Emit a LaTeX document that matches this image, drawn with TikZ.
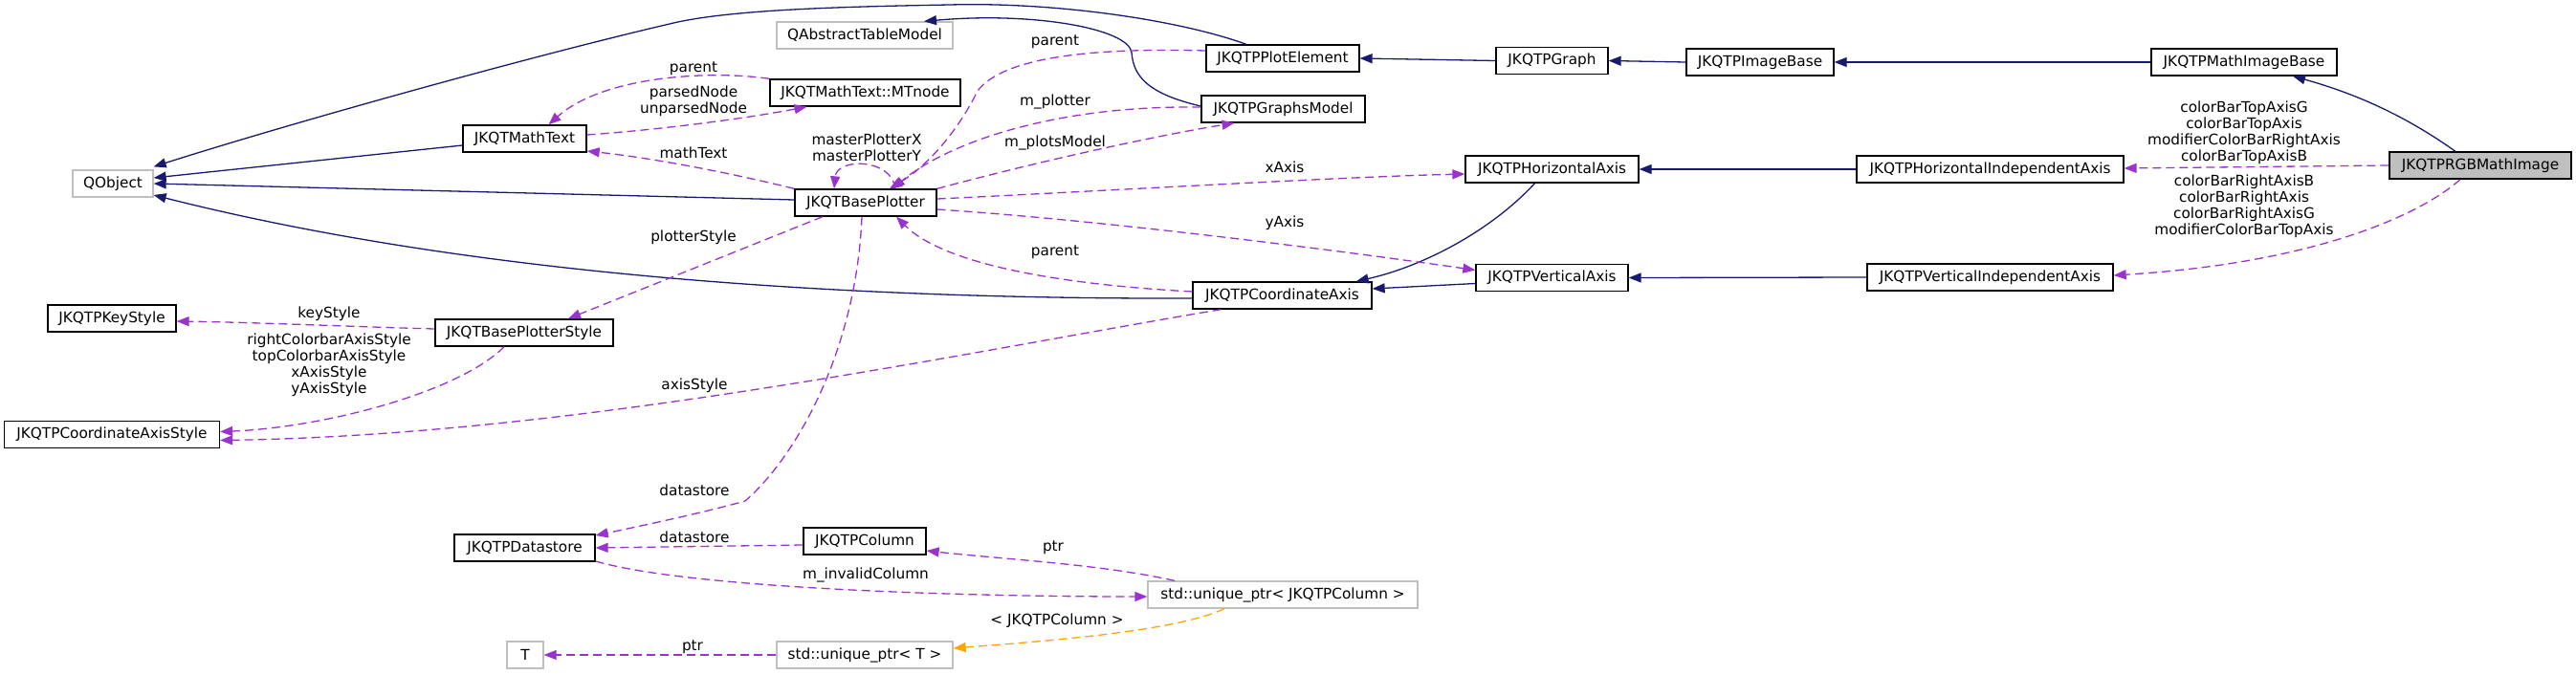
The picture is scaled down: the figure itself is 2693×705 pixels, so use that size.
\documentclass[tikz,border=0pt]{standalone}
\usepackage{fontspec}
\newfontfamily\dgfam{DejaVu Sans}
\newcommand\dgfont{\dgfam\fontsize{15.3}{17}\selectfont}
\usetikzlibrary{arrows.meta,calc}
\definecolor{navy}{HTML}{191970}
\definecolor{orchid}{HTML}{9A32CD}
\definecolor{orng}{HTML}{FFA500}
\definecolor{gry}{HTML}{BFBFBF}
\begin{document}
\begin{tikzpicture}[x=1pt,y=-1pt,
  box/.style={draw=black, line width=1.3pt, fill=white, minimum height=28pt, inner sep=0pt, font=\dgfont},
  ext/.style={box, draw=gry},
  rootbox/.style={box, fill=gry},
  inh/.style={draw=navy, line width=1.3pt, -{Triangle[length=13pt,width=10pt]}},
  use/.style={draw=orchid, line width=1.3pt, dash pattern=on 9pt off 5pt, -{Triangle[length=13pt,width=10pt]}},
  tmpl/.style={draw=orng, line width=1.3pt, dash pattern=on 9pt off 5pt, -{Triangle[length=13pt,width=10pt]}},
  lbl/.style={font=\dgfont, inner sep=0pt, align=center}]
\useasboundingbox (0,0) rectangle (2693,705);
% nodes
\node[ext, minimum width=84pt] (qobj) at (118,192) {QObject};
\node[ext, minimum width=184pt] (qatm) at (904,37) {QAbstractTableModel};
\node[box, minimum width=199pt] (mtn) at (904.5,97) {JKQTMathText::MTnode};
\node[box, minimum width=129pt] (mt) at (548.5,145) {JKQTMathText};
\node[box, minimum width=160pt] (pe) at (1341,61) {JKQTPPlotElement};
\node[box, minimum width=171pt] (gm) at (1341.5,114) {JKQTPGraphsModel};
\node[box, minimum width=148pt] (bp) at (905,212) {JKQTBasePlotter};
\node[box, minimum width=117pt] (gr) at (1622.5,63.5) {JKQTPGraph};
\node[box, minimum width=154pt] (ib) at (1840,65) {JKQTPImageBase};
\node[box, minimum width=194pt] (mib) at (2346,65) {JKQTPMathImageBase};
\node[rootbox, minimum width=190pt] (rgb) at (2593,173) {JKQTPRGBMathImage};
\node[box, minimum width=181pt] (ha) at (1622.5,177) {JKQTPHorizontalAxis};
\node[box, minimum width=279pt] (hia) at (2080.5,177) {JKQTPHorizontalIndependentAxis};
\node[box, minimum width=159pt] (va) at (1622.5,290.5) {JKQTPVerticalAxis};
\node[box, minimum width=257pt] (via) at (2080.5,290) {JKQTPVerticalIndependentAxis};
\node[box, minimum width=187pt] (ca) at (1340.5,309) {JKQTPCoordinateAxis};
\node[box, minimum width=134pt] (ks) at (117,333) {JKQTPKeyStyle};
\node[box, minimum width=186pt] (bps) at (548,348) {JKQTBasePlotterStyle};
\node[box, minimum width=225pt] (cas) at (117,454.5) {JKQTPCoordinateAxisStyle};
\node[box, minimum width=147pt] (ds) at (548.5,573) {JKQTPDatastore};
\node[box, minimum width=128pt] (col) at (904,566) {JKQTPColumn};
\node[ext, minimum width=282pt] (up) at (1341,622) {std::unique\_ptr< JKQTPColumn >};
\node[ext, minimum width=38pt] (t) at (549,685) {T};
\node[ext, minimum width=184pt] (upt) at (904,685) {std::unique\_ptr< T >};
% inheritance
\draw[inh] ([xshift=-38pt]pe.north) .. controls (1230,20) and (1100,2) .. (993,5) .. controls (880,7) and (760,10) .. (700,25) .. controls (550,60) and (300,130) .. ([yshift=3pt]qobj.north east);
\draw[inh] ([yshift=-7pt]mt.west) -- ([yshift=6pt]qobj.east);
\draw[inh] ([yshift=3pt]bp.west) -- (qobj.east);
\draw[inh] ([yshift=-3pt]ca.west) .. controls (900,313) and (500,290) .. ([yshift=-12pt]qobj.east);
\draw[inh] ([yshift=3pt]gm.west) .. controls (1200,98) and (1185,80) .. (1183,55) .. controls (1180,30) and (1080,12) .. ([xshift=62pt]qatm.north);
\draw[inh] (gr.west) -- (pe.east);
\draw[inh] (ib.west) -- (gr.east);
\draw[inh] (mib.west) -- (ib.east);
\draw[inh] ([xshift=-26pt]rgb.north) .. controls (2520,125) and (2470,100) .. ([xshift=51pt]mib.south);
\draw[inh] (hia.west) -- (ha.east);
\draw[inh] (via.west) -- (va.east);
\draw[inh] ([xshift=-18pt]ha.south) .. controls (1560,240) and (1490,278) .. ([xshift=-17pt]ca.north east);
\draw[inh] ([yshift=-6pt]va.west) -- ([yshift=7pt]ca.east);
% usage
\draw[use] (mtn.north west) .. controls (740,73) and (630,80) .. ([xshift=25pt]mt.north);
\node[lbl] (la) at (725,72) {parent};
\draw[use] ([yshift=4pt]mt.east) .. controls (700,135) and (790,122) .. ([xshift=-61pt]mtn.south);
\node[lbl] (lb) at (725,105.5) {parsedNode\\unparsedNode};
\draw[use] (bp.north west) .. controls (760,180) and (680,165) .. ([yshift=-13pt]mt.east);
\node[lbl] (lc) at (725,160) {mathText};
\draw[use] ([xshift=31pt]bp.north) .. controls (932,165) and (875,165) .. ([xshift=-33pt]bp.north);
\node[lbl] (ld) at (906,154) {masterPlotterX\\masterPlotterY};
\draw[use] ([yshift=8pt]pe.west) .. controls (1150,50) and (1050,58) .. (1022,95) .. controls (1005,130) and (975,170) .. ([xshift=25pt]bp.north);
\node[lbl] (le) at (1103,44) {parent};
\draw[use] ([yshift=2pt]gm.west) .. controls (1100,110) and (990,150) .. ([xshift=28pt]bp.north);
\node[lbl] (lf) at (1103,106) {m\_plotter};
\draw[use] (bp.north east) .. controls (1100,165) and (1220,140) .. ([xshift=-51pt]gm.south);
\node[lbl] (lg) at (1103,149) {m\_plotsModel};
\draw[use] ([yshift=4pt]bp.east) .. controls (1150,200) and (1400,185) .. ([yshift=-5pt]ha.west);
\node[lbl] (lh) at (1343,175) {xAxis};
\draw[use] ([yshift=-7pt]bp.east) .. controls (1150,230) and (1400,262) .. ([yshift=8pt]va.west);
\node[lbl] (li) at (1343,233) {yAxis};
\draw[use] ([yshift=4pt]ca.west) .. controls (1100,297) and (985,275) .. ([xshift=32pt]bp.south);
\node[lbl] (lj) at (1103,264) {parent};
\draw[use] ([xshift=-45pt]bp.south) -- ([xshift=46pt]bps.north);
\node[lbl] (lk) at (725,248) {plotterStyle};
\draw[use] ([yshift=4pt]bps.west) .. controls (380,342) and (260,337) .. ([yshift=-3pt]ks.east);
\node[lbl] (ll) at (344,328) {keyStyle};
\draw[use] ([xshift=-21pt]bps.south) .. controls (480,410) and (340,447) .. ([yshift=3pt]cas.east);
\node[lbl] (lm) at (344,381.5) {rightColorbarAxisStyle\\topColorbarAxisStyle\\xAxisStyle\\yAxisStyle};
\draw[use] ([xshift=-64pt]ca.south) .. controls (1000,370) and (600,455) .. ([yshift=-6pt]cas.east);
\node[lbl] (ln) at (726,403) {axisStyle};
\draw[use] ([xshift=-4pt]bp.south) .. controls (895,370) and (830,480) .. (779,524) .. controls (740,535) and (680,548) .. ([yshift=13pt]ds.east);
\node[lbl] (lo) at (726,513) {datastore};
\draw[use] ([yshift=-4pt]col.west) -- (ds.east);
\node[lbl] (lp) at (726,562) {datastore};
\draw[use] ([yshift=-14pt]ds.east) .. controls (720,615) and (1000,624) .. ([yshift=-2pt]up.west);
\node[lbl] (lq) at (905,601) {m\_invalidColumn};
\draw[use] ([xshift=-113pt]up.north) .. controls (1150,590) and (1050,585) .. ([yshift=-10pt]col.east);
\node[lbl] (lr) at (1101,573) {ptr};
\draw[tmpl] ([xshift=-61pt]up.south) .. controls (1230,660) and (1100,670) .. ([yshift=7pt]upt.east);
\node[lbl] (ls) at (1105,649) {< JKQTPColumn >};
\draw[use] (upt.west) -- (t.east);
\node[lbl] (lt) at (724,677) {ptr};
\draw[use] (rgb.west) -- ([yshift=1pt]hia.east);
\node[lbl] (lu) at (2346,138.5) {colorBarTopAxisG\\colorBarTopAxis\\modifierColorBarRightAxis\\colorBarTopAxisB};
\draw[use] ([xshift=-21pt]rgb.south) .. controls (2530,225) and (2420,275) .. ([yshift=2pt]via.east);
\node[lbl] (lv) at (2346,215.5) {colorBarRightAxisB\\colorBarRightAxis\\colorBarRightAxisG\\modifierColorBarTopAxis};
\end{tikzpicture}
\end{document}
